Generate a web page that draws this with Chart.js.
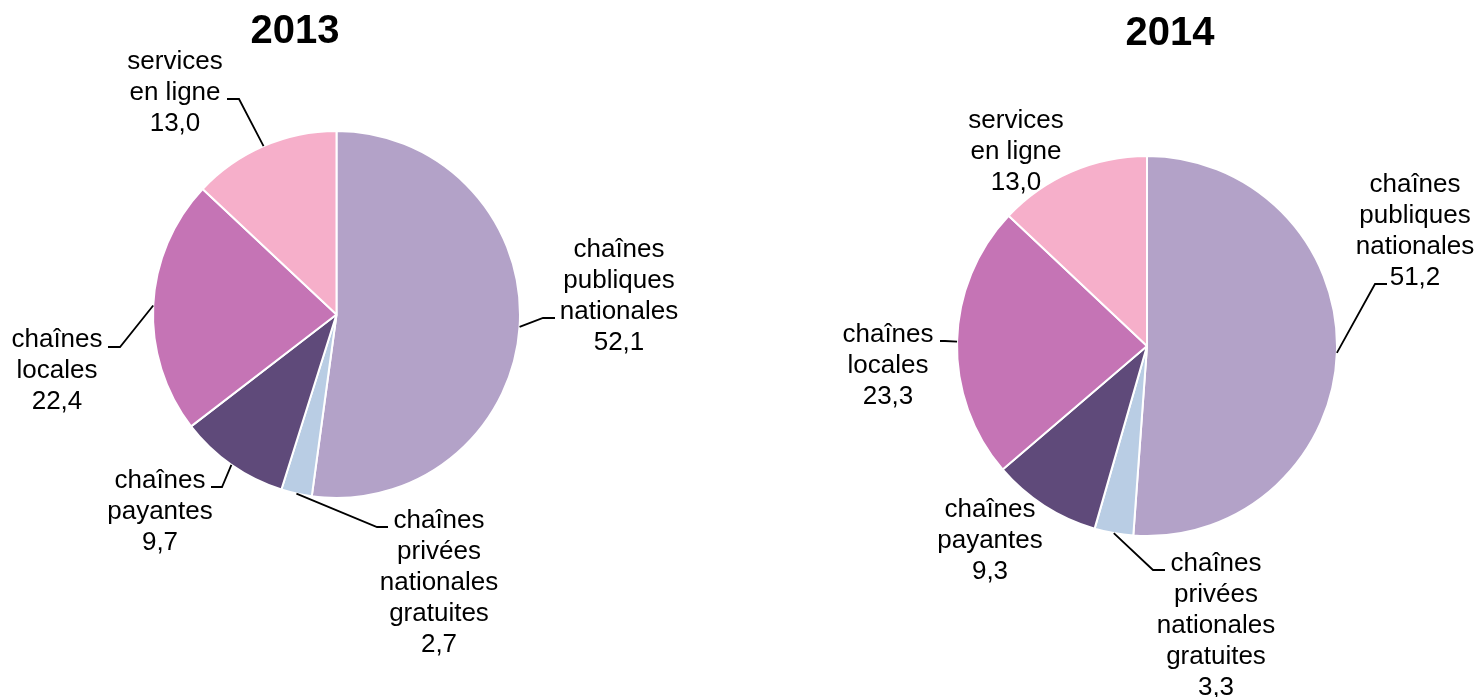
<!DOCTYPE html>
<html>
<head>
<meta charset="utf-8">
<script src="https://cdn.jsdelivr.net/npm/chart.js@4.4.1/dist/chart.umd.min.js"></script>
<style>
  html, body { margin: 0; padding: 0; background: #ffffff; }
  #wrap { position: relative; width: 1479px; height: 697px; }
  #wrap canvas { position: absolute; left: 0; top: 0; }
</style>
</head>
<body>
<div id="wrap">
  <canvas id="pie2013" width="1479" height="697"></canvas>
  <canvas id="pie2014" width="1479" height="697"></canvas>
</div>
<script>
// categories, in clockwise order from 12 o'clock
const categories = [
  ["chaînes", "publiques", "nationales"],
  ["chaînes", "privées", "nationales", "gratuites"],
  ["chaînes", "payantes"],
  ["chaînes", "locales"],
  ["services", "en ligne"]
];
const years = ["2013", "2014"];
const values2013 = [52.1, 2.7, 9.7, 22.4, 13.0];
const values2014 = [51.2, 3.3, 9.3, 23.3, 13.0];

const sliceColors = ["#b3a2c8", "#b9cde4", "#5f4a7a", "#c574b5", "#f6afca"];
const textColor = "#000000";
const fontFamily = "'Liberation Sans', Arial, sans-serif";
const lineHeight = 31;

// label placement: text centre x, first baseline y, optional leader elbow / end
const layout2013 = [
  { x: 619, y: 257, elbow: [543, 318], end: [555, 318] },
  { x: 439, y: 528, elbow: [377, 527], end: [388, 527] },
  { x: 160, y: 488, elbow: [222, 487], end: [211, 487] },
  { x: 57, y: 347, elbow: [120, 347], end: [108, 347] },
  { x: 175, y: 69, elbow: [239, 99], end: [227, 99] }
];
const layout2014 = [
  { x: 1415, y: 192, elbow: [1375, 284], end: [1387, 284] },
  { x: 1216, y: 571, elbow: [1153, 570], end: [1165, 570] },
  { x: 990, y: 517 },
  { x: 888, y: 342, elbow: [945, 341], end: [940, 341] },
  { x: 1016, y: 128 }
];

function fmt(v) {
  return v.toFixed(1).replace(".", ",");
}

const pieLabels = {
  id: "pieLabels",
  afterDatasetsDraw(chart, args, opts) {
    const ctx = chart.ctx;
    const meta = chart.getDatasetMeta(0);
    const data = chart.data.datasets[0].data;
    ctx.save();

    // title
    ctx.fillStyle = textColor;
    ctx.font = "bold 40px " + fontFamily;
    ctx.textAlign = "center";
    ctx.textBaseline = "alphabetic";
    ctx.fillText(opts.title, opts.titleX, opts.titleY);

    meta.data.forEach((arc, i) => {
      const lay = opts.layout[i];
      if (!lay) return;
      if (lay.elbow) {
        const p = arc.getProps(["x", "y", "startAngle", "endAngle", "outerRadius"], true);
        const mid = (p.startAngle + p.endAngle) / 2;
        const sx = p.x + Math.cos(mid) * p.outerRadius;
        const sy = p.y + Math.sin(mid) * p.outerRadius;
        ctx.strokeStyle = textColor;
        ctx.lineWidth = 1.8;
        ctx.beginPath();
        ctx.moveTo(sx, sy);
        ctx.lineTo(lay.elbow[0], lay.elbow[1]);
        ctx.lineTo(lay.end[0], lay.end[1]);
        ctx.stroke();
      }
      const lines = chart.data.labels[i].concat([fmt(data[i])]);
      ctx.fillStyle = textColor;
      ctx.font = "26px " + fontFamily;
      ctx.textAlign = "center";
      lines.forEach((t, k) => ctx.fillText(t, lay.x, lay.y + k * lineHeight));
    });
    ctx.restore();
  }
};

function makePie(id, values, title, padding, titleX, titleY, layout) {
  return new Chart(document.getElementById(id), {
    type: "pie",
    data: {
      labels: categories,
      datasets: [{
        data: values,
        backgroundColor: sliceColors,
        borderColor: "#ffffff",
        borderWidth: 2
      }]
    },
    options: {
      responsive: false,
      animation: false,
      layout: { padding },
      plugins: {
        legend: { display: false },
        tooltip: { enabled: false },
        pieLabels: { title, titleX, titleY, layout }
      }
    },
    plugins: [pieLabels]
  });
}

makePie("pie2013", values2013, years[0],
  { left: 152, top: 130, right: 958, bottom: 198 }, 295, 43, layout2013);
makePie("pie2014", values2014, years[1],
  { left: 956, top: 155, right: 141, bottom: 160 }, 1170, 45, layout2014);
</script>
</body>
</html>
